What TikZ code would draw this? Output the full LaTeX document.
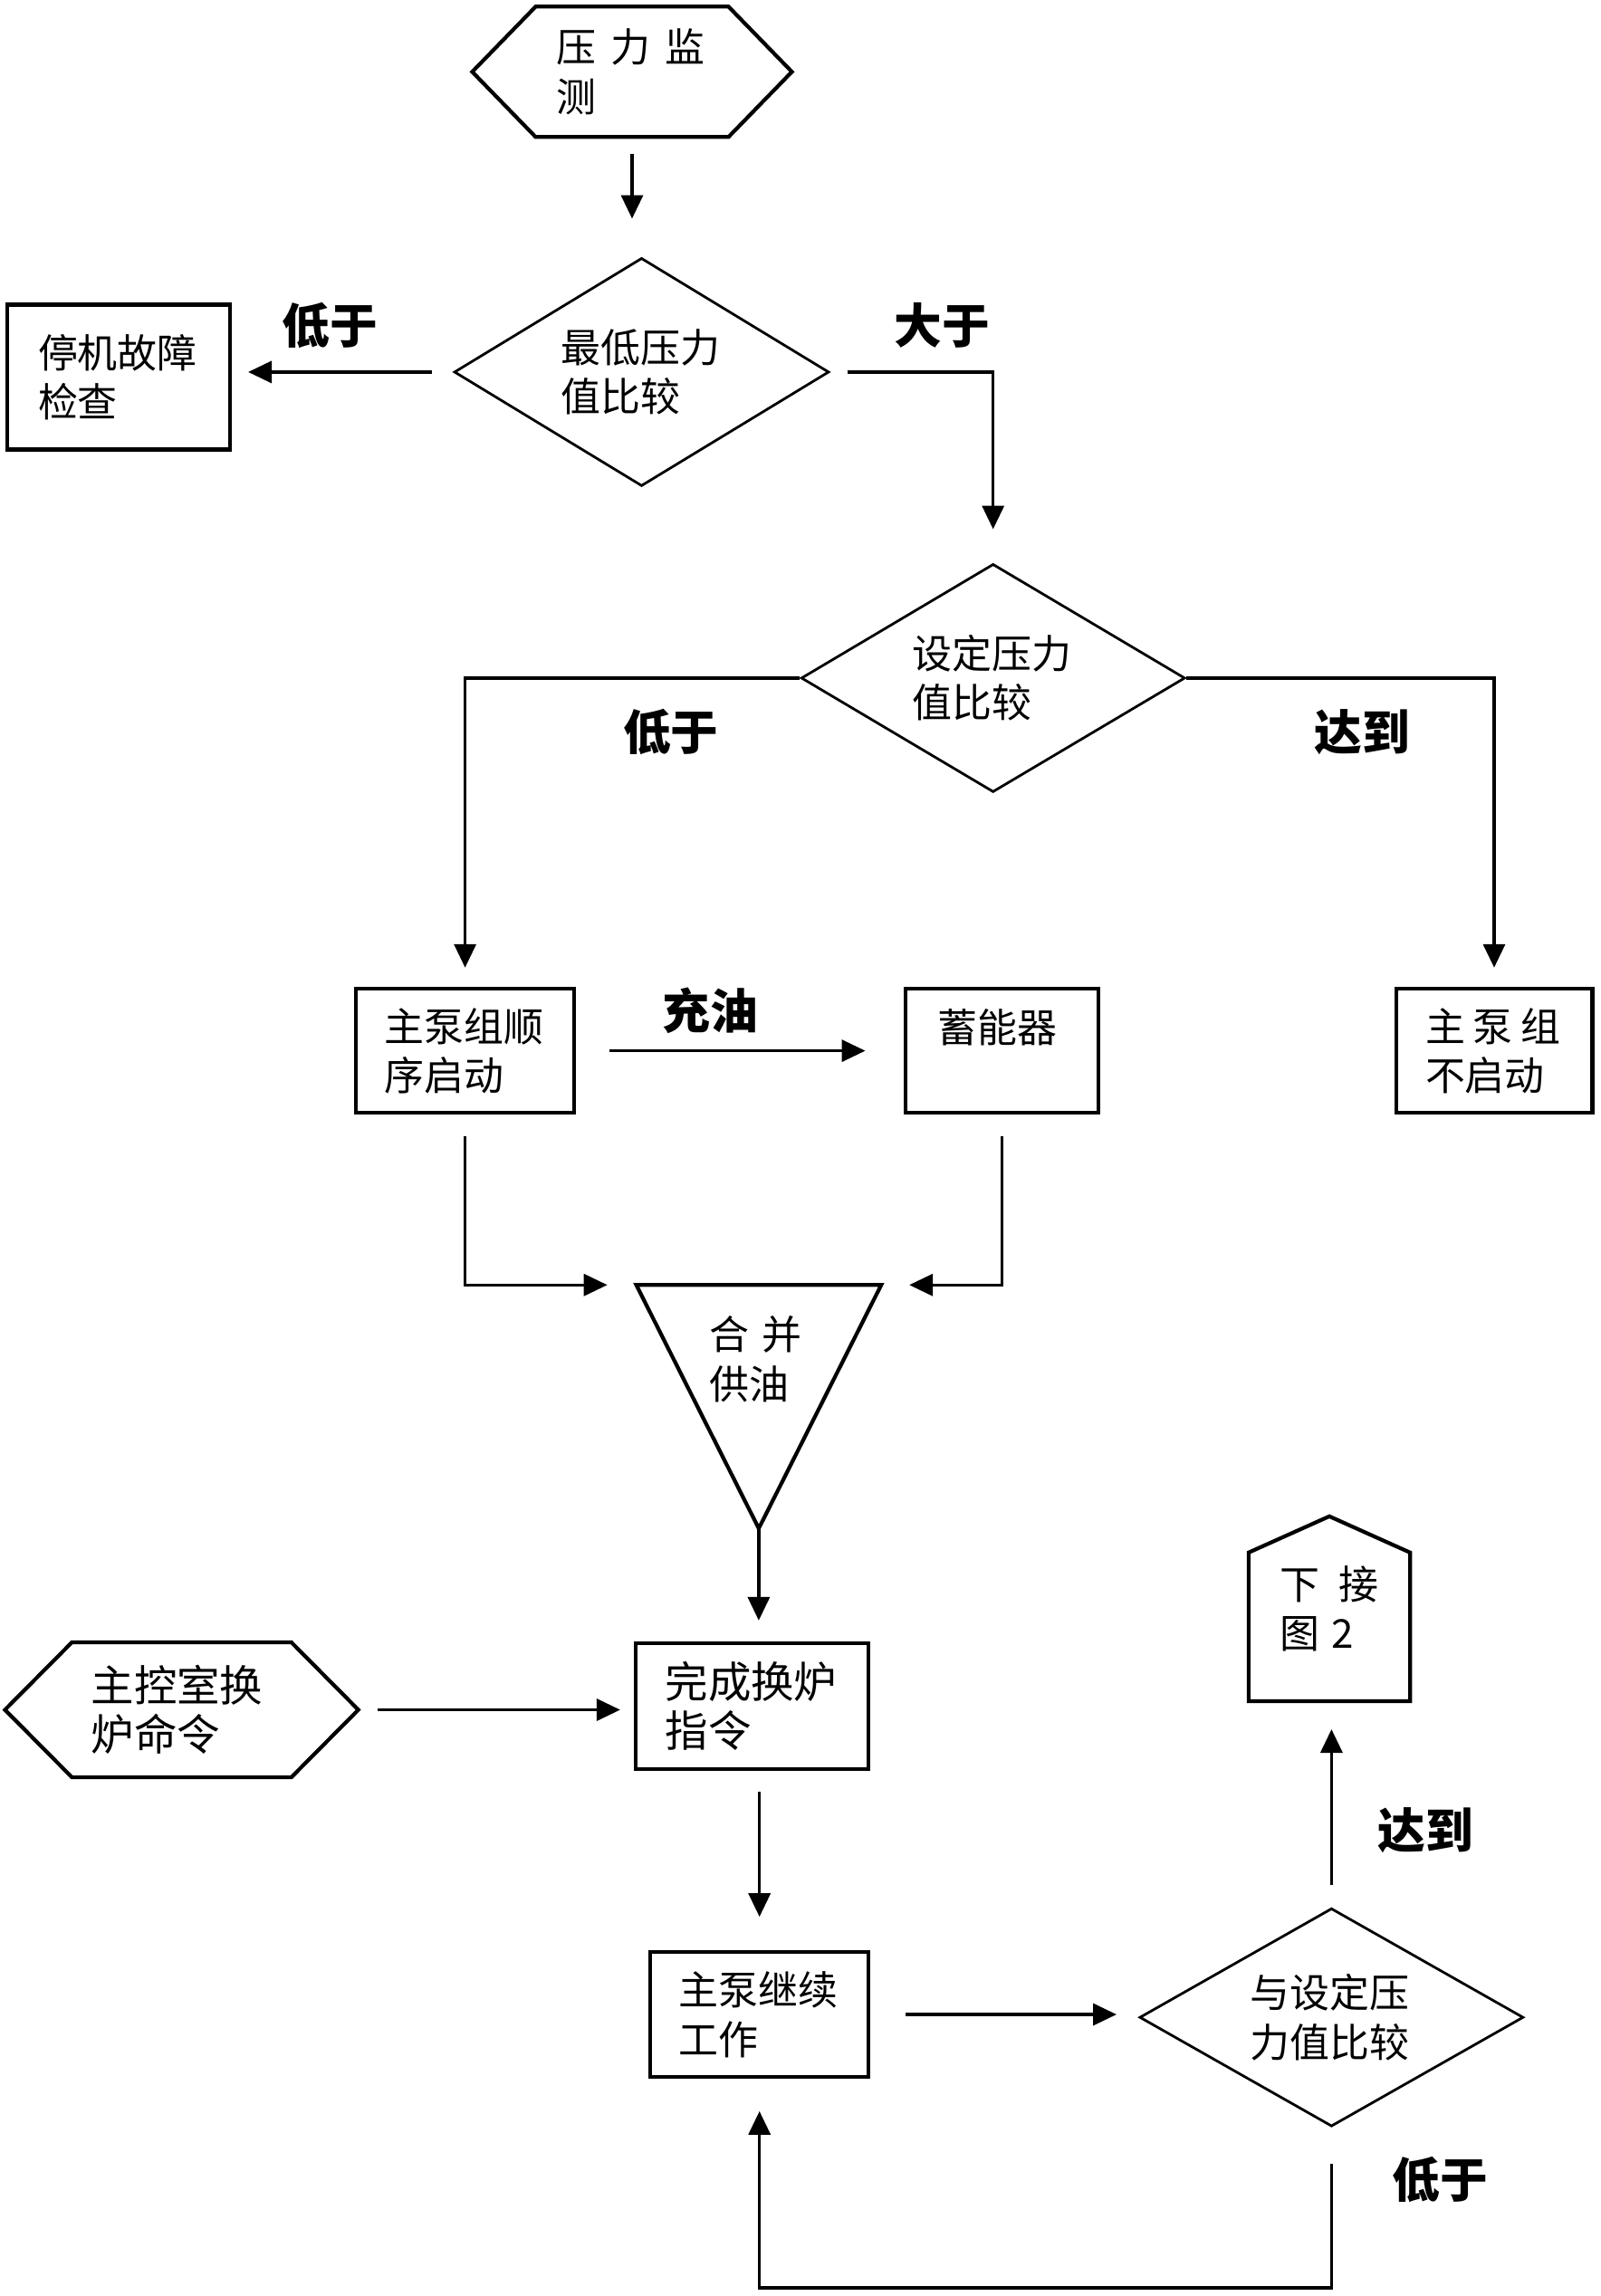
\documentclass[tikz,border=0pt]{standalone}
\usepackage{fontspec}
\newfontfamily\cjk{Noto Sans CJK SC}
\usetikzlibrary{arrows.meta}
\usetikzlibrary{shapes.geometric}
\usetikzlibrary{calc}
\tikzset{
	flow/.style={draw=black, line width=1pt, -{Triangle[length=2.6mm,width=2.4mm]}},
	box/.style={draw=black, line width=1.2pt, rectangle, align=left, inner sep=0pt,
		text width=1.78cm, font=\cjk\fontsize{12.5}{15.5}\selectfont},
	decision/.style={draw=black, line width=.8pt, diamond, aspect=1.6, inner sep=1pt,
		align=left, text width=1.78cm, font=\cjk\fontsize{12.5}{15.5}\selectfont},
	plain/.style={align=left, inner sep=0pt, font=\cjk\fontsize{12.5}{15.5}\selectfont},
	outline/.style={draw=black, line width=1.2pt},
	cond/.style={inner sep=0pt, font=\cjk\bfseries\fontsize{15}{18}\selectfont},
}
\begin{document}
\begin{tikzpicture}[line width=.2mm, scale = 1]
		\useasboundingbox (0,0) rectangle (17.68,-25.36);

		\node[plain, text width=1.68cm, minimum width=3.51cm, minimum height=1.42cm] (mon) at (6.980,-0.793) {压\hspace{.37em}力\hspace{.37em}监\\测};
		\draw[outline] (mon.west) -- ([xshift=.7cm]mon.north west) -- ([xshift=-.7cm]mon.north east) -- (mon.east)
			-- ([xshift=-.7cm]mon.south east) -- ([xshift=.7cm]mon.south west) -- cycle;

		\node[decision, minimum width=4.14cm, minimum height=2.52cm] (low) at (7.085,-4.109) {最低压力\\值比较};
		\node[box, text width=1.78cm, minimum width=2.459cm, minimum height=1.601cm] (stop) at (1.310,-4.165) {停机故障\\检查};
		\node[decision, minimum width=4.24cm, minimum height=2.52cm] (set) at (10.967,-7.489) {设定压力\\值比较};

		\node[box, minimum width=2.41cm, minimum height=1.375cm] (seq) at (5.136,-11.606) {主泵组顺\\序启动};
		\node[box, text width=1.42cm, minimum width=2.135cm, minimum height=1.375cm] (acc) at (11.064,-11.606) {蓄能器\\~};
		\node[box, text width=1.52cm, minimum width=2.168cm, minimum height=1.375cm] (idle) at (16.500,-11.606) {主\hspace{.2em}泵\hspace{.2em}组\\不启动};

		\node[plain, text width=1.08cm, minimum width=2.685cm, minimum height=2.669cm] (merge) at (8.379,-15.537) {合\hspace{.3em}并\\供油\\~\\~};
		\draw[outline] (merge.north west) -- (merge.north east) -- (merge.south) -- cycle;

		\node[plain, text width=2.0cm, minimum width=3.882cm, minimum height=1.472cm,
			font=\cjk\fontsize{13.5}{15.5}\selectfont] (cmd) at (2.006,-18.885) {主控室换\\炉命令};
		\draw[outline] (cmd.west) -- ([xshift=.74cm]cmd.north west) -- ([xshift=-.74cm]cmd.north east) -- (cmd.east)
			-- ([xshift=-.74cm]cmd.south east) -- ([xshift=.74cm]cmd.south west) -- cycle;
		\node[box, text width=1.92cm, minimum width=2.572cm, minimum height=1.391cm,
			font=\cjk\fontsize{13.5}{15.5}\selectfont] (done) at (8.306,-18.845) {完成换炉\\指令};
		\node[box, minimum width=2.41cm, minimum height=1.375cm] (cont) at (8.387,-22.250) {主泵继续\\工作};
		\node[decision, text width=1.80cm, minimum width=4.24cm, minimum height=2.41cm] (cmp) at (14.704,-22.282) {与设定压\\力值比较};

		\node[plain, text width=1.1cm, minimum width=1.763cm, minimum height=2.022cm] (next) at (14.680,-17.769) {下\hspace{.5em}接\\图\hspace{.3em}2};
		\draw[outline] (next.south west) -- (next.south east) -- ([yshift=-.4cm]next.north east) -- (next.north)
			-- ([yshift=-.4cm]next.north west) -- cycle;

		\node[cond] (c1) at (3.640,-3.591) {低于};
		\node[cond] (c2) at (10.401,-3.591) {大于};
		\node[cond] (c3) at (7.409,-8.088) {低于};
		\node[cond] (c4) at (15.044,-8.088) {达到};
		\node[cond] (c5) at (7.845,-11.161) {充油};
		\node[cond] (c6) at (15.740,-20.220) {达到};
		\node[cond] (c7) at (15.900,-24.070) {低于};

		\draw[flow, shorten <=.19cm, shorten >=.42cm] (mon.south) -- (mon.south |- low.north);
		\draw[flow, shorten <=.23cm, shorten >=.18cm] (low.west) -- (low.west -| stop.east);
		\draw[flow, shorten <=.19cm, shorten >=.37cm] (low.east) -| (set.north);
		\draw[flow, shorten >=.21cm] (set.west) -| (seq.north);
		\draw[flow, shorten >=.21cm] (set.east) -| (idle.north);
		\draw[flow, shorten <=.37cm, shorten >=.42cm] (seq.east) -- (acc.west);
		\draw[flow, shorten <=.24cm, shorten >=.32cm] (seq.south) |- (merge.north west);
		\draw[flow, shorten <=.24cm, shorten >=.31cm] (acc.south) |- (merge.north east);
		\draw[flow, shorten >=.23cm] (merge.south) -- (merge.south |- done.north);
		\draw[flow, shorten <=.21cm, shorten >=.15cm] (cmd.east) -- (cmd.east -| done.west);
		\draw[flow, shorten <=.23cm, shorten >=.37cm] (cont.north |- done.south) -- (cont.north);
		\draw[flow, shorten <=.39cm, shorten >=.24cm] (cont.east) -- (cont.east -| cmp.west);
		\draw[flow, shorten <=.24cm, shorten >=.31cm] (cmp.north) -- (cmp.north |- next.south);
		\coordinate (back) at (14.704,-25.270);
		\draw[flow, shorten <=.40cm, shorten >=.36cm] (cmp.south) -- (back) -| (cont.south);
\end{tikzpicture}
\end{document}
